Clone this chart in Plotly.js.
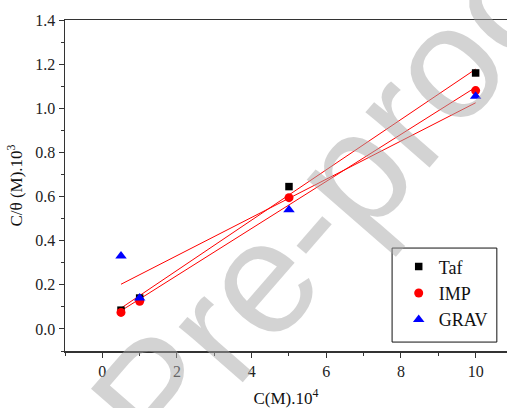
<!DOCTYPE html>
<html>
<head>
<meta charset="utf-8">
<script src="https://cdn.plot.ly/plotly-3.0.1.min.js"></script>
<style>html,body{margin:0;padding:0;background:#fff;overflow:hidden;}</style>
</head>
<body>
<div id="chart" style="width:507px;height:408px;"></div>
<script>
// Data
const concentration = [0.5, 1, 5, 10];          // C(M).10^4
const tafValues  = [0.085, 0.14, 0.645, 1.16];  // C/theta (M).10^3
const impValues  = [0.075, 0.125, 0.595, 1.08];
const gravValues = [0.33, 0.14, 0.54, 1.055];
const seriesNames = ['Taf', 'IMP', 'GRAV'];
const xTickVals = [0, 2, 4, 6, 8, 10];
const yTickVals = [0, 0.2, 0.4, 0.6, 0.8, 1.0, 1.2, 1.4];

function linearFit(xs, ys) {
  const n = xs.length;
  const mx = xs.reduce((a, b) => a + b, 0) / n;
  const my = ys.reduce((a, b) => a + b, 0) / n;
  let sxy = 0, sxx = 0;
  for (let i = 0; i < n; i++) { sxy += (xs[i] - mx) * (ys[i] - my); sxx += (xs[i] - mx) ** 2; }
  const slope = sxy / sxx, intercept = my - slope * mx;
  const x0 = Math.min(...xs), x1 = Math.max(...xs);
  return { x: [x0, x1], y: [intercept + slope * x0, intercept + slope * x1] };
}

const seriesValues = [tafValues, impValues, gravValues];
const markerStyles = [
  { symbol: 'square', color: '#000000', size: 7.5 },
  { symbol: 'circle', color: '#ff0000', size: 9 },
  { symbol: 'triangle-up', color: '#0000ff', size: 10 }
];

const traces = [];
seriesValues.forEach((vals, i) => {
  const fit = linearFit(concentration, vals);
  traces.push({
    x: fit.x, y: fit.y, type: 'scatter', mode: 'lines',
    line: { color: '#ff0000', width: 1 }, showlegend: false, hoverinfo: 'skip'
  });
});
seriesValues.forEach((vals, i) => {
  traces.push({
    x: concentration, y: vals, type: 'scatter', mode: 'markers', name: seriesNames[i],
    marker: { symbol: markerStyles[i].symbol, color: markerStyles[i].color, size: markerStyles[i].size, line: { width: 0 } }
  });
});

const serif = '"Liberation Serif", "Times New Roman", serif';
const layout = {
  width: 507, height: 408,
  margin: { l: 65, r: 0, t: 20, b: 57 },
  paper_bgcolor: '#ffffff', plot_bgcolor: '#ffffff',
  font: { family: serif, size: 16, color: '#222' },
  showlegend: true,
  legend: {
    x: 0.755, y: 0.31, xanchor: 'left', yanchor: 'top',
    bgcolor: 'rgba(0,0,0,0)', borderwidth: 0,
    font: { family: serif, size: 18, color: '#111' },
    tracegroupgap: 0, itemwidth: 30
  },
  xaxis: {
    range: [-1, 10.84], showgrid: false, zeroline: false,
    showline: true, linecolor: '#333', linewidth: 1.5, mirror: true,
    ticks: 'outside', ticklen: 5, tickwidth: 1, tickcolor: '#333',
    tickvals: xTickVals, ticktext: xTickVals.map(String),
    minor: { dtick: 1, tick0: 0, ticks: 'outside', ticklen: 3, tickcolor: '#333' },
    tickfont: { family: serif, size: 16, color: '#222' },
    title: { text: 'C(M).10<sup>4</sup>', font: { family: serif, size: 17, color: '#111' }, standoff: 14 }
  },
  yaxis: {
    range: [-0.1, 1.4], showgrid: false, zeroline: false,
    showline: true, linecolor: '#333', linewidth: 1.5,
    ticks: 'outside', ticklen: 5, tickwidth: 1, tickcolor: '#333',
    tickvals: yTickVals, ticktext: yTickVals.map(v => v.toFixed(1)),
    minor: { dtick: 0.1, tick0: 0, ticks: 'outside', ticklen: 3, tickcolor: '#333' },
    tickfont: { family: serif, size: 16, color: '#222' },
    title: { text: 'C/θ (M).10<sup>3</sup>', font: { family: serif, size: 17, color: '#111' }, standoff: 8 }
  },
  shapes: [{
    type: 'rect', xref: 'paper', yref: 'paper',
    x0: 0.740, x1: 0.977, y0: 0.027, y1: 0.311,
    line: { color: '#111', width: 1 }, fillcolor: 'rgba(0,0,0,0)'
  }],
  annotations: [{
    text: 'Journal Pre-proof', xref: 'paper', yref: 'paper',
    x: 0.205, y: -0.139, xanchor: 'center', yanchor: 'middle',
    textangle: -49, showarrow: false,
    font: { family: '"Liberation Sans", Arial, sans-serif', size: 160, color: 'rgba(168,168,168,0.5)' }
  }]
};

Plotly.newPlot('chart', traces, layout, { displayModeBar: false, staticPlot: true });
</script>
</body>
</html>
